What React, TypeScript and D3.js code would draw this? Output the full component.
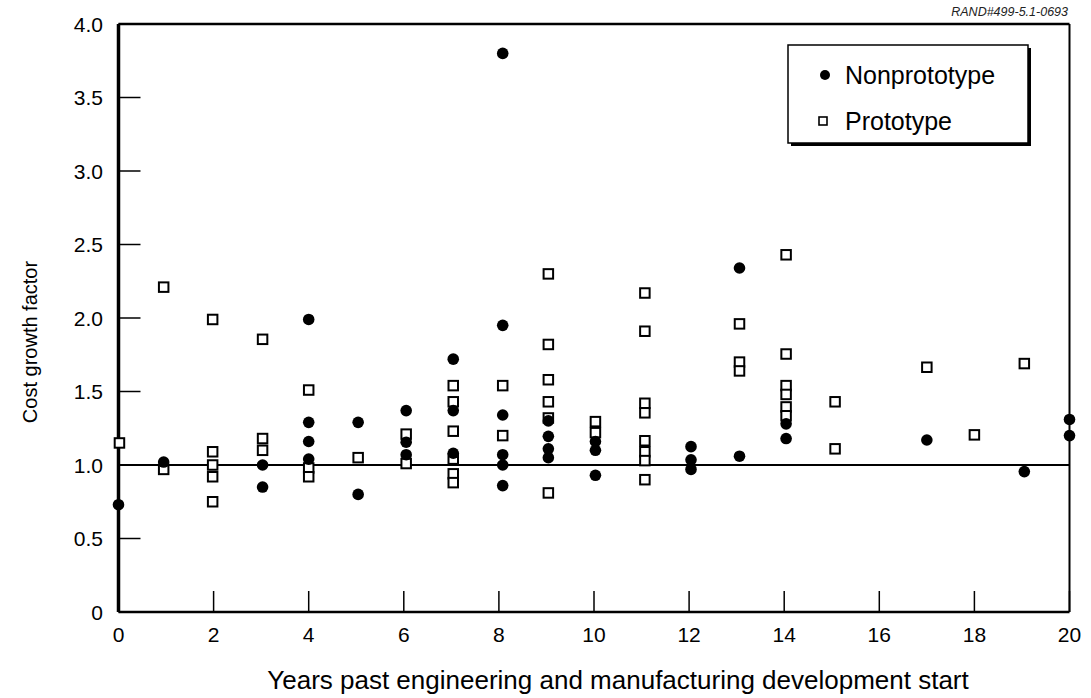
import React from "react";
import * as d3 from "d3";

const nonprototypeYears = [0, 0.95, 3.03, 3.03, 4, 4, 4, 4, 5.04, 5.04, 6.05, 6.05, 6.05, 7.04, 7.04, 7.04, 8.08, 8.08, 8.08, 8.08, 8.08, 8.08, 9.04, 9.04, 9.04, 9.04, 10.03, 10.03, 10.03, 12.04, 12.04, 12.04, 13.06, 13.06, 14.04, 14.04, 17, 19.05, 20, 20];
const nonprototypeValues = [0.73, 1.02, 1.0, 0.85, 1.99, 1.29, 1.16, 1.04, 1.29, 0.8, 1.37, 1.155, 1.07, 1.72, 1.37, 1.08, 3.8, 1.95, 1.34, 1.07, 1.0, 0.86, 1.3, 1.195, 1.11, 1.05, 1.16, 1.1, 0.93, 1.125, 1.035, 0.97, 2.34, 1.06, 1.28, 1.18, 1.17, 0.955, 1.31, 1.2];

const prototypeYears = [0.02, 0.95, 0.95, 1.98, 1.98, 1.98, 1.98, 1.98, 3.03, 3.03, 3.03, 4, 4, 4, 5.04, 6.05, 6.05, 7.04, 7.04, 7.04, 7.04, 7.04, 7.04, 8.08, 8.08, 9.04, 9.04, 9.04, 9.04, 9.04, 9.04, 10.03, 10.03, 11.07, 11.07, 11.07, 11.07, 11.07, 11.07, 11.07, 11.07, 13.06, 13.06, 13.06, 14.04, 14.04, 14.04, 14.04, 14.04, 14.04, 15.07, 15.07, 17, 18, 19.05];
const prototypeValues = [1.15, 2.21, 0.97, 1.99, 1.09, 1.0, 0.92, 0.75, 1.855, 1.18, 1.1, 1.51, 0.98, 0.92, 1.05, 1.21, 1.01, 1.54, 1.43, 1.23, 1.04, 0.94, 0.88, 1.54, 1.2, 2.3, 1.82, 1.58, 1.43, 1.32, 0.81, 1.295, 1.22, 2.17, 1.91, 1.42, 1.355, 1.165, 1.09, 1.03, 0.9, 1.96, 1.7, 1.64, 2.43, 1.755, 1.54, 1.48, 1.395, 1.335, 1.43, 1.11, 1.665, 1.205, 1.69];

const xTicks = [0, 2, 4, 6, 8, 10, 12, 14, 16, 18, 20];
const yTicks = [0, 0.5, 1.0, 1.5, 2.0, 2.5, 3.0, 3.5, 4.0];
const yTickLabels = ["0", "0.5", "1.0", "1.5", "2.0", "2.5", "3.0", "3.5", "4.0"];
const legendLabels = ["Nonprototype", "Prototype"];
const referenceValue = 1.0;

const FONT = "'Liberation Sans', Arial, Helvetica, sans-serif";

export default function App() {
  const W = 1091, H = 698;
  const x = d3.scaleLinear().domain([0, 20]).range([118.5, 1069.5]);
  const y = d3.scaleLinear().domain([0, 4]).range([612, 24]);
  const left = x(0), right = x(20), top = y(4), bottom = y(0);
  const sq = 9.5;

  return (
    <svg width={W} height={H} style={{ position: "absolute", left: 0, top: 0, background: "#fff" }} fontFamily={FONT}>
      <rect x={0} y={0} width={W} height={H} fill="#fff" />
      <text x={1068} y={16} textAnchor="end" fontSize={12.5} fontStyle="italic" fill="#222">RAND#499-5.1-0693</text>

      {/* ticks */}
      {yTicks.map((t, i) => (
        <g key={"y" + i}>
          <line x1={left} x2={left + 22} y1={y(t)} y2={y(t)} stroke="#000" strokeWidth={1.5} />
          <text x={103} y={y(t) + 7.5} textAnchor="end" fontSize={21} fill="#000">{yTickLabels[i]}</text>
        </g>
      ))}
      {xTicks.map((t, i) => (
        <g key={"x" + i}>
          <line x1={x(t)} x2={x(t)} y1={bottom} y2={bottom - 21} stroke="#000" strokeWidth={1.5} />
          <text x={x(t)} y={642} textAnchor="middle" fontSize={21} fill="#000">{t}</text>
        </g>
      ))}

      {/* reference line */}
      <line x1={left} x2={right} y1={y(referenceValue)} y2={y(referenceValue)} stroke="#000" strokeWidth={2} />

      {/* frame */}
      <line x1={left} x2={right} y1={top} y2={top} stroke="#000" strokeWidth={2.5} />
      <line x1={right} x2={right} y1={top} y2={bottom} stroke="#000" strokeWidth={2} />
      <line x1={left} x2={right} y1={bottom} y2={bottom} stroke="#000" strokeWidth={2.5} />
      <line x1={left} x2={left} y1={top} y2={bottom} stroke="#000" strokeWidth={3.5} />

      {/* prototype squares */}
      {prototypeYears.map((yr, i) => (
        <rect key={"p" + i} x={x(yr) - sq / 2} y={y(prototypeValues[i]) - sq / 2} width={sq} height={sq} fill="#fff" stroke="#000" strokeWidth={2} />
      ))}
      {/* nonprototype circles */}
      {nonprototypeYears.map((yr, i) => (
        <circle key={"n" + i} cx={x(yr)} cy={y(nonprototypeValues[i])} r={5.8} fill="#000" />
      ))}

      {/* legend */}
      <rect x={791} y={48} width={240} height={98} fill="#000" />
      <rect x={788} y={45} width={240} height={98} fill="#fff" stroke="#000" strokeWidth={1.5} />
      <circle cx={825} cy={75} r={5} fill="#000" />
      <text x={845} y={84} fontSize={25} fill="#000">{legendLabels[0]}</text>
      <rect x={819} y={117} width={8} height={8} fill="#fff" stroke="#000" strokeWidth={1.6} />
      <text x={845} y={130} fontSize={25} fill="#000">{legendLabels[1]}</text>

      {/* axis titles */}
      <text x={618} y={689} textAnchor="middle" fontSize={26} fill="#000">Years past engineering and manufacturing development start</text>
      <text transform={`translate(37,342) rotate(-90)`} textAnchor="middle" fontSize={20} fill="#000">Cost growth factor</text>
    </svg>
  );
}
